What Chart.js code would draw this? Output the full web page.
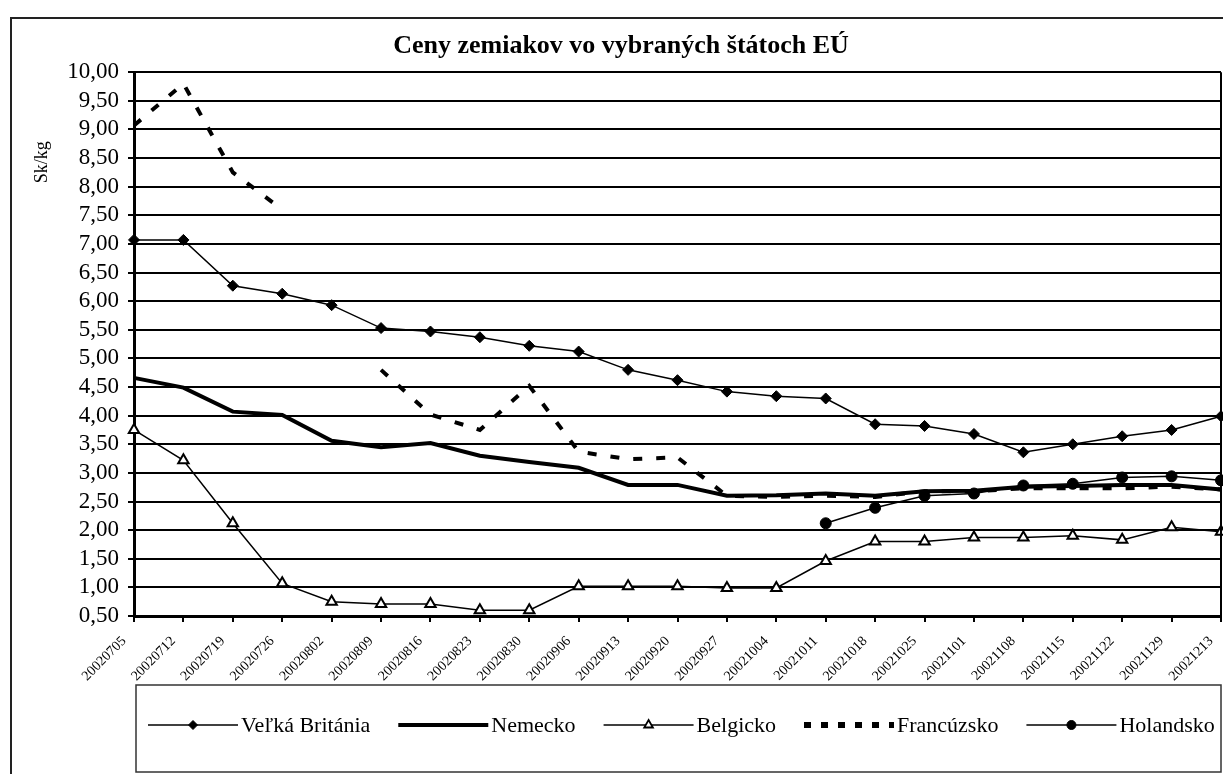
<!DOCTYPE html>
<html><head><meta charset="utf-8">
<script src="https://cdn.jsdelivr.net/npm/chart.js@4/dist/chart.umd.min.js"></script>
<style>
html,body{margin:0;padding:0;overflow:hidden;background:#fff;width:1223px;height:774px;}
#wrap{position:absolute;left:0;top:0;width:1257px;height:774px;}
</style></head><body>
<div id="wrap"><canvas id="c" width="1257" height="774"></canvas></div>
<script>
const categories = ['20020705','20020712','20020719','20020726','20020802','20020809','20020816','20020823','20020830','20020906','20020913','20020920','20020927','20021004','20021011','20021018','20021025','20021101','20021108','20021115','20021122','20021129','20021213'];
const velkaBritania = [7.07,7.07,6.27,6.13,5.93,5.53,5.47,5.37,5.22,5.12,4.80,4.62,4.42,4.34,4.30,3.85,3.82,3.68,3.36,3.50,3.64,3.75,3.99];
const nemecko = [4.66,4.49,4.07,4.01,3.56,3.45,3.52,3.30,3.19,3.09,2.79,2.79,2.60,2.61,2.64,2.60,2.68,2.69,2.76,2.77,2.79,2.79,2.71];
const belgicko = [3.75,3.22,2.12,1.07,0.75,0.71,0.71,0.60,0.60,1.02,1.02,1.02,0.99,0.99,1.46,1.80,1.80,1.87,1.87,1.90,1.83,2.05,1.97];
const francuzsko = [9.07,9.80,8.25,7.60,null,4.80,4.02,3.75,4.52,3.37,3.24,3.27,2.60,2.58,2.60,2.58,2.68,2.68,2.73,2.73,2.73,2.76,2.71];
const holandsko = [null,null,null,null,null,null,null,null,null,null,null,null,null,null,2.12,2.39,2.60,2.64,2.78,2.81,2.92,2.94,2.87];
const seriesNames = ['Veľká Británia','Nemecko','Belgicko','Francúzsko','Holandsko'];
const chartTitle = 'Ceny zemiakov vo vybraných štátoch EÚ';
const yAxisTitle = 'Sk/kg';
const yMin = 0.5, yMax = 10, yStep = 0.5;

const SERIF = '"Liberation Serif","Times New Roman",serif';

function drawMarker(ctx, style, x, y, r, fill) {
  ctx.save();
  ctx.beginPath();
  if (style === 'rectRot') {
    ctx.moveTo(x - r, y); ctx.lineTo(x, y - r); ctx.lineTo(x + r, y); ctx.lineTo(x, y + r); ctx.closePath();
  } else if (style === 'triangle') {
    for (let i = 0; i < 3; i++) {
      const a = i * 2 * Math.PI / 3;
      const px = x + Math.sin(a) * r, py = y - Math.cos(a) * r;
      if (i === 0) ctx.moveTo(px, py); else ctx.lineTo(px, py);
    }
    ctx.closePath();
  } else if (style === 'circle') {
    ctx.arc(x, y, r, 0, Math.PI * 2);
  }
  ctx.fillStyle = fill; ctx.fill();
  ctx.lineWidth = style === 'triangle' ? 1.8 : 1; ctx.strokeStyle = '#000'; ctx.stroke();
  ctx.restore();
}

const decor = {
  id: 'decor',
  beforeDraw(chart) {
    const ctx = chart.ctx;
    ctx.save();
    ctx.fillStyle = '#fff';
    ctx.fillRect(0, 0, chart.width, chart.height);
    ctx.strokeStyle = '#222';
    ctx.lineWidth = 2;
    ctx.beginPath();
    ctx.moveTo(11, 790); ctx.lineTo(11, 18); ctx.lineTo(1300, 18);
    ctx.stroke();
    ctx.restore();
  },
  afterDraw(chart) {
    const ctx = chart.ctx, a = chart.chartArea;
    ctx.save();
    ctx.strokeStyle = '#000'; ctx.lineWidth = 2;
    ctx.beginPath(); ctx.moveTo(a.right, a.top); ctx.lineTo(a.right, a.bottom + 1); ctx.stroke();
    ctx.save();
    ctx.translate(42, a.top + 90);
    ctx.rotate(-Math.PI / 2);
    ctx.font = '18px ' + SERIF; ctx.fillStyle = '#000';
    ctx.textAlign = 'center'; ctx.textBaseline = 'middle';
    ctx.fillText(yAxisTitle, 0, 0);
    ctx.restore();
    const boxL = 136, boxT = 685, boxR = a.right, boxB = 772;
    ctx.strokeStyle = '#333'; ctx.lineWidth = 1.5;
    ctx.strokeRect(boxL, boxT, boxR - boxL, boxB - boxT);
    ctx.font = '22px ' + SERIF; ctx.textBaseline = 'middle'; ctx.textAlign = 'left'; ctx.fillStyle = '#000';
    const ly = 725;
    let x = 148;
    const sampleW = 90;
    chart.data.datasets.forEach((ds) => {
      ctx.save();
      ctx.strokeStyle = '#000';
      ctx.lineWidth = ds.borderDash && ds.borderDash.length ? 6 : ds.borderWidth;
      ctx.setLineDash(ds.borderDash && ds.borderDash.length ? [7, 10] : []);
      ctx.beginPath(); ctx.moveTo(x, ly); ctx.lineTo(x + sampleW, ly); ctx.stroke();
      ctx.restore();
      if (ds.pointRadius > 0) {
        drawMarker(ctx, ds.pointStyle, x + sampleW / 2, ly, ds.pointStyle === 'triangle' ? 5 : 4.5, ds.pointBackgroundColor);
      }
      ctx.fillStyle = '#000';
      ctx.fillText(ds.label, x + sampleW + 3, ly + 1);
      x += sampleW + 3 + ctx.measureText(ds.label).width + 28;
    });
    ctx.restore();
  }
};

const common = { borderColor: '#000', fill: false, tension: 0, clip: false, spanGaps: false };

new Chart(document.getElementById('c'), {
  type: 'line',
  data: {
    labels: categories,
    datasets: [
      Object.assign({}, common, { label: seriesNames[0], data: velkaBritania, borderWidth: 1.5, pointStyle: 'rectRot', pointRadius: 5.5, pointBackgroundColor: '#000', pointBorderColor: '#000', pointBorderWidth: 1 }),
      Object.assign({}, common, { label: seriesNames[1], data: nemecko, borderWidth: 4, pointRadius: 0 }),
      Object.assign({}, common, { label: seriesNames[2], data: belgicko, borderWidth: 1.5, pointStyle: 'triangle', pointRadius: 6, pointBackgroundColor: '#fff', pointBorderColor: '#000', pointBorderWidth: 2 }),
      Object.assign({}, common, { label: seriesNames[3], data: francuzsko, borderWidth: 4, borderDash: [9, 14], borderCapStyle: 'butt', pointRadius: 0 }),
      Object.assign({}, common, { label: seriesNames[4], data: holandsko, borderWidth: 1.5, pointStyle: 'circle', pointRadius: 5.5, pointBackgroundColor: '#000', pointBorderColor: '#000', pointBorderWidth: 1 })
    ]
  },
  options: {
    responsive: false,
    animation: false,
    events: [],
    layout: { padding: { left: 21, right: 36, top: 18, bottom: 88 } },
    plugins: {
      legend: { display: false },
      tooltip: { enabled: false },
      title: {
        display: true, text: chartTitle, color: '#000',
        font: { family: SERIF, size: 26, weight: 'bold' },
        padding: { top: 13, bottom: 10 }
      }
    },
    scales: {
      x: {
        type: 'category', offset: false,
        grid: { display: true, drawOnChartArea: false, drawTicks: true, tickLength: 6, color: '#000', lineWidth: 2, offset: false },
        border: { display: true, color: '#000', width: 3 },
        ticks: { autoSkip: false, minRotation: 45, maxRotation: 45, color: '#000', font: { family: SERIF, size: 14 }, padding: 11, labelOffset: -10 },
        afterFit(s) { s.height = 70; }
      },
      y: {
        min: yMin, max: yMax,
        grid: { color: '#000', lineWidth: 2, drawTicks: true, tickLength: 6 },
        border: { display: true, color: '#000', width: 3 },
        ticks: { autoSkip: false, stepSize: yStep, color: '#000', padding: 9, font: { family: SERIF, size: 23 },
          callback: (v) => Number(v).toFixed(2).replace('.', ',') },
        afterFit(s) { s.width = 113; }
      }
    }
  },
  plugins: [decor]
});
</script>
</body></html>
